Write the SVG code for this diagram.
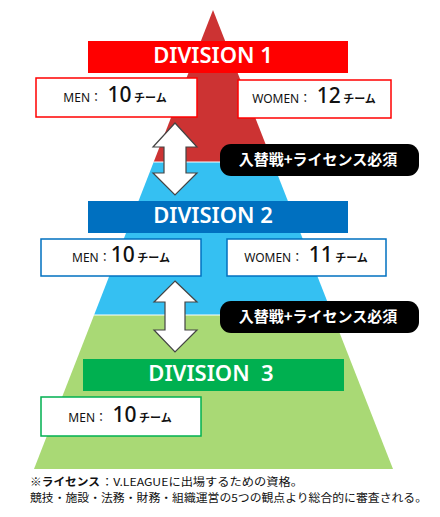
<svg xmlns="http://www.w3.org/2000/svg" width="440" height="517" viewBox="0 0 440 517">
<style>
.div{font-family:"Noto Sans","Noto Sans CJK JP",sans-serif;font-weight:600;font-size:22px;fill:#fff;text-anchor:middle}
.box{fill:#fff;stroke-width:1.5}
.cnt{font-family:"Noto Sans","Noto Sans CJK JP",sans-serif;fill:#111;text-anchor:middle}
.lbl{font-size:12px}
.num{font-size:21px;font-weight:500}
.unit{font-size:11px;font-weight:bold;font-family:"Noto Sans CJK JP",sans-serif}
.pill{fill:#000}
.pt{font-family:"Noto Sans CJK JP",sans-serif;font-weight:bold;font-size:15px;fill:#fff;text-anchor:middle}
.arr{fill:#fff;stroke:#444;stroke-width:1.2;stroke-linejoin:miter}
.note{font-family:"Noto Sans CJK JP",sans-serif;font-size:11px;fill:#111}
</style>
<g id="pyramid">
<polygon points="213,10 153.7,162 272.6,162" fill="#cc3333"/>
<polygon points="153.7,162 272.6,162 332.6,315 94.1,315" fill="#35c0f2"/>
<polygon points="94.1,315 332.6,315 393,469 34,469" fill="#a9d975"/>
<line x1="153.7" y1="162" x2="272.6" y2="162" stroke="#fff" stroke-width="1"/>
<line x1="94.1" y1="315" x2="332.6" y2="315" stroke="#fff" stroke-width="1"/>
</g>
<g id="div1">
<rect x="88" y="41" width="260" height="32" fill="#ff0000"/>
<text class="div" x="213" y="63">DIVISION 1</text>
</g>
<g id="men1">
<rect class="box" x="36" y="78" width="161" height="39" stroke="#ff0000"/>
<text class="cnt" x="115" y="102"><tspan class="lbl">MEN：</tspan><tspan class="num"> 10</tspan><tspan class="unit"> チーム</tspan></text>
</g>
<g id="women1">
<rect class="box" x="238" y="80" width="153" height="38" stroke="#ff0000"/>
<text class="cnt" x="314" y="103"><tspan class="lbl">WOMEN：</tspan><tspan class="num"> 12</tspan><tspan class="unit"> チーム</tspan></text>
</g>
<g id="div2">
<rect x="88" y="201" width="260" height="32" fill="#0070c0"/>
<text class="div" x="213" y="223">DIVISION 2</text>
</g>
<g id="men2">
<rect class="box" x="41" y="239" width="160" height="37" stroke="#0070c0"/>
<text class="cnt" x="121" y="262"><tspan class="lbl">MEN：</tspan><tspan class="num">10</tspan><tspan class="unit"> チーム</tspan></text>
</g>
<g id="women2">
<rect class="box" x="227" y="239" width="159" height="37" stroke="#0070c0"/>
<text class="cnt" x="306" y="262"><tspan class="lbl">WOMEN：</tspan><tspan class="num"> 11</tspan><tspan class="unit"> チーム</tspan></text>
</g>
<g id="div3">
<rect x="83" y="359" width="261" height="32" fill="#00b050"/>
<text class="div" x="211" y="381" xml:space="preserve">DIVISION  3</text>
</g>
<g id="men3">
<rect class="box" x="41" y="397" width="160" height="39" stroke="#00b050"/>
<text class="cnt" x="120" y="422"><tspan class="lbl">MEN：</tspan><tspan class="num"> 10</tspan><tspan class="unit"> チーム</tspan></text>
</g>
<g id="connectors">
<path class="arr" d="M175,123 L197,147 L186,147 L186,173 L197,173 L175,195 L153,173 L164,173 L164,147 L153,147 Z"/>
<path class="arr" d="M175,281 L197,302 L185,302 L185,330 L197,330 L175,352 L154,330 L165,330 L165,302 L154,302 Z"/>
</g>
<g id="label1">
<rect class="pill" x="220" y="144" width="199" height="32" rx="11"/>
<text class="pt" x="318" y="165">入替戦+ライセンス必須</text>
</g>
<g id="label2">
<rect class="pill" x="220" y="301" width="199" height="32" rx="11"/>
<text class="pt" x="318" y="322">入替戦+ライセンス必須</text>
</g>
<g id="footnote">
<text class="note" x="30" y="486" font-weight="bold" textLength="70" lengthAdjust="spacingAndGlyphs">※ライセンス</text>
<text class="note" x="101" y="486" textLength="202" lengthAdjust="spacingAndGlyphs">：V.LEAGUEに出場するための資格。</text>
<text class="note" x="30" y="502" textLength="397" lengthAdjust="spacingAndGlyphs">競技・施設・法務・財務・組織運営の5つの観点より総合的に審査される。</text>
</g>
</svg>
